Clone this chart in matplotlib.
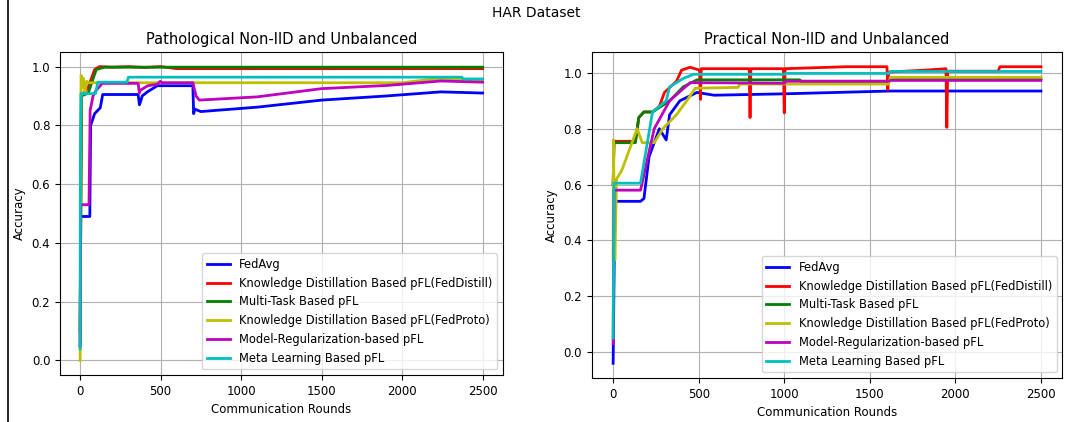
import matplotlib.pyplot as plt

labels = ['FedAvg', 'Knowledge Distillation Based pFL(FedDistill)', 'Multi-Task Based pFL',
          'Knowledge Distillation Based pFL(FedProto)', 'Model-Regularization-based pFL',
          'Meta Learning Based pFL']
colors = ['b', 'r', 'g', 'y', 'm', 'c']

# Pathological Non-IID (rounds, accuracy) breakpoints
path_avg_r = [0, 3, 60, 65, 90, 125, 140, 360, 368, 375, 385, 420, 480, 700, 705, 712, 750, 1100, 1500, 1900, 2240, 2500]
path_avg_a = [0.05, 0.49, 0.49, 0.80, 0.84, 0.86, 0.905, 0.905, 0.87, 0.88, 0.90, 0.915, 0.935, 0.935, 0.84, 0.855, 0.847, 0.862, 0.886, 0.90, 0.914, 0.91]
path_dist_r = [0, 8, 50, 90, 120, 200, 300, 400, 500, 600, 2500]
path_dist_a = [0.1, 0.9, 0.93, 0.99, 1.0, 0.998, 1.0, 0.997, 1.0, 0.993, 0.993]
path_mt_r = [0, 8, 50, 100, 150, 2500]
path_mt_a = [0.1, 0.9, 0.91, 0.99, 0.998, 0.998]
path_proto_r = [0, 2, 6, 12, 20, 30, 40, 55, 2000, 2180, 2500]
path_proto_a = [0.0, 0.65, 0.97, 0.93, 0.96, 0.91, 0.95, 0.945, 0.945, 0.957, 0.955]
path_reg_r = [0, 3, 55, 62, 80, 100, 138, 360, 368, 375, 420, 480, 497, 510, 700, 720, 740, 1100, 1500, 1910, 2240, 2500]
path_reg_a = [0.05, 0.53, 0.53, 0.85, 0.9, 0.92, 0.943, 0.943, 0.91, 0.92, 0.935, 0.94, 0.95, 0.945, 0.945, 0.90, 0.886, 0.897, 0.925, 0.936, 0.951, 0.947]
path_meta_r = [0, 1, 5, 95, 110, 290, 300, 2370, 2380, 2500]
path_meta_a = [0.04, 0.65, 0.908, 0.908, 0.947, 0.947, 0.964, 0.964, 0.958, 0.958]

# Practical Non-IID
prac_avg_r = [0, 10, 160, 180, 210, 270, 310, 330, 390, 490, 590, 1000, 1620, 2500]
prac_avg_a = [-0.04, 0.54, 0.54, 0.55, 0.70, 0.80, 0.76, 0.85, 0.90, 0.93, 0.92, 0.925, 0.935, 0.935]
prac_dist_r = [0, 5, 130, 150, 180, 230, 270, 300, 370, 400, 450, 505, 510, 515, 795, 800, 805, 995, 1000, 1005,
               1360, 1600, 1605, 1610, 1615, 1830, 1945, 1950, 1955, 2250, 2260, 2500]
prac_dist_a = [0.6, 0.755, 0.755, 0.84, 0.86, 0.86, 0.88, 0.93, 0.97, 1.01, 1.02, 1.01, 0.905, 1.015, 1.015, 0.84, 1.015, 1.015, 0.857, 1.015,
               1.022, 1.022, 0.94, 1.0, 1.003, 1.01, 1.015, 0.805, 1.006, 1.006, 1.022, 1.022]
prac_mt_r = [0, 5, 130, 150, 180, 230, 330, 410, 490, 1090, 1100, 1610, 1620, 2500]
prac_mt_a = [0.6, 0.75, 0.75, 0.84, 0.86, 0.86, 0.9, 0.95, 0.975, 0.975, 0.97, 0.97, 0.978, 0.978]
prac_proto_r = [0, 2, 10, 20, 50, 80, 110, 140, 170, 240, 290, 370, 430, 480, 730, 740, 1610, 1620, 2500]
prac_proto_a = [0.33, 0.76, 0.33, 0.62, 0.65, 0.70, 0.75, 0.80, 0.75, 0.75, 0.80, 0.85, 0.90, 0.945, 0.948, 0.96, 0.96, 0.984, 0.984]
prac_reg_r = [0, 5, 160, 240, 330, 450, 1000, 1010, 1610, 1620, 2500]
prac_reg_a = [0.03, 0.58, 0.58, 0.80, 0.90, 0.965, 0.963, 0.97, 0.97, 0.973, 0.973]
prac_meta_r = [0, 5, 160, 230, 310, 330, 410, 470, 1000, 1010, 1610, 1620, 2500]
prac_meta_a = [0.05, 0.605, 0.605, 0.86, 0.90, 0.95, 0.98, 0.995, 0.995, 0.998, 0.998, 1.005, 1.005]

path_r = [path_avg_r, path_dist_r, path_mt_r, path_proto_r, path_reg_r, path_meta_r]
path_a = [path_avg_a, path_dist_a, path_mt_a, path_proto_a, path_reg_a, path_meta_a]
prac_r = [prac_avg_r, prac_dist_r, prac_mt_r, prac_proto_r, prac_reg_r, prac_meta_r]
prac_a = [prac_avg_a, prac_dist_a, prac_mt_a, prac_proto_a, prac_reg_a, prac_meta_a]

fig = plt.figure(figsize=(10.72, 4.22), dpi=100)
ax1 = fig.add_axes([0.056, 0.111, 0.413, 0.766])
ax2 = fig.add_axes([0.552, 0.104, 0.439, 0.773])

for ax, rs, accs, title in [(ax1, path_r, path_a, 'Pathological Non-IID and Unbalanced'),
                            (ax2, prac_r, prac_a, 'Practical Non-IID and Unbalanced')]:
    for ir, ia, icolor, ilabel in zip(rs, accs, colors, labels):
        ax.plot(ir, ia, c=icolor, lw=2, label=ilabel)
    ax.set_title(title, fontsize=10.5)
    ax.set_xlabel('Communication Rounds', fontsize=8.5)
    ax.set_ylabel('Accuracy', fontsize=8.5)
    ax.set_xticks([0, 500, 1000, 1500, 2000, 2500])
    ax.tick_params(labelsize=8.5)
    ax.grid(True)
    ax.legend(loc='lower right', fontsize=8.3)

fig.suptitle('HAR Dataset', fontsize=10, y=0.985)
# left border of the original screenshot
fig.add_artist(plt.Line2D([0.0075, 0.0075], [0, 1], color='black', lw=1.2))

fig.savefig('out.png', dpi=100)
